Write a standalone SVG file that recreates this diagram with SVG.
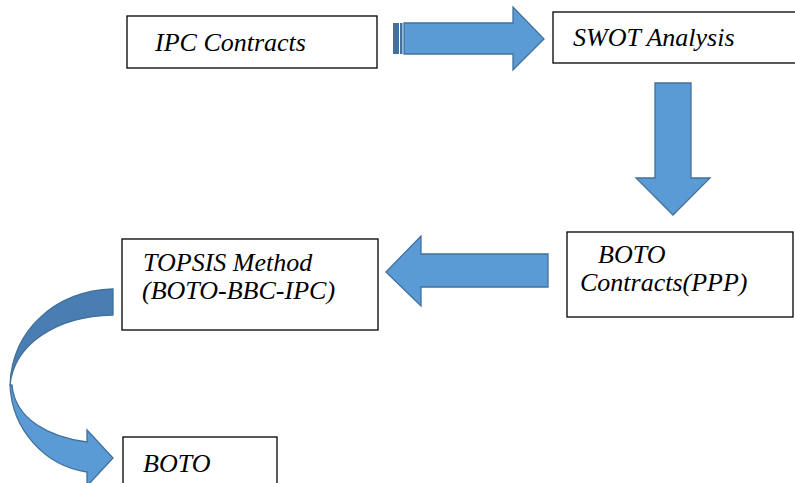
<svg xmlns="http://www.w3.org/2000/svg" width="795" height="483" viewBox="0 0 795 483">
<style>
.box{fill:#fff;stroke:#000;stroke-width:1.3}
.arr{fill:#5B9BD5;stroke:#41719C;stroke-width:1.3;stroke-linejoin:miter}
.dark{fill:#4A7EB3;stroke:#41719C;stroke-width:1.3}
</style>
<rect width="795" height="483" fill="#fff"/>
<g id="connectors">
  <g id="arrow-right">
    <rect x="393" y="23" width="6" height="31" fill="#41719C"/>
    <rect x="400" y="23" width="2.5" height="31" fill="#41719C"/>
    <path class="arr" d="M404,23 L513,23 L513,7 L544,39 L513,70 L513,54 L404,54 Z"/>
  </g>
  <path id="arrow-down" class="arr" d="M655,83 L691,83 L691,178 L710,178 L673,215 L636,178 L655,178 Z"/>
  <path id="arrow-left" class="arr" d="M548,254 L421,254 L421,236 L386,272 L421,306 L421,287 L548,287 Z"/>
  <g id="arrow-curved">
    <path class="dark" d="M113,289 C55,291 12,330 10,385 C14,345 55,316 113,315 Z"/>
    <path class="arr" d="M10,385 C12,430 45,466 87,472 L87,486 L113,458 L87,430 L87,442 C50,437 15,420 12,385 Z"/>
  </g>
</g>
<g font-family="Liberation Serif, Times New Roman, DejaVu Serif, serif" font-style="italic" font-size="26" fill="#000">
<g id="node-ipc">
  <rect class="box" x="127" y="16" width="250" height="52"/>
  <text x="155" y="51">IPC Contracts</text>
</g>
<g id="node-swot">
  <rect class="box" x="553" y="12" width="260" height="51"/>
  <text x="573" y="46">SWOT Analysis</text>
</g>
<g id="node-boto-ppp">
  <rect class="box" x="567" y="232" width="226" height="85"/>
  <text x="598" y="263">BOTO</text>
  <text x="580" y="291">Contracts(PPP)</text>
</g>
<g id="node-topsis">
  <rect class="box" x="122" y="239" width="256" height="91"/>
  <text x="143" y="271">TOPSIS Method</text>
  <text x="142" y="299">(BOTO-BBC-IPC)</text>
</g>
<g id="node-boto">
  <rect class="box" x="123" y="437" width="154" height="60"/>
  <text x="143" y="472">BOTO</text>
</g>
</g>
</svg>
